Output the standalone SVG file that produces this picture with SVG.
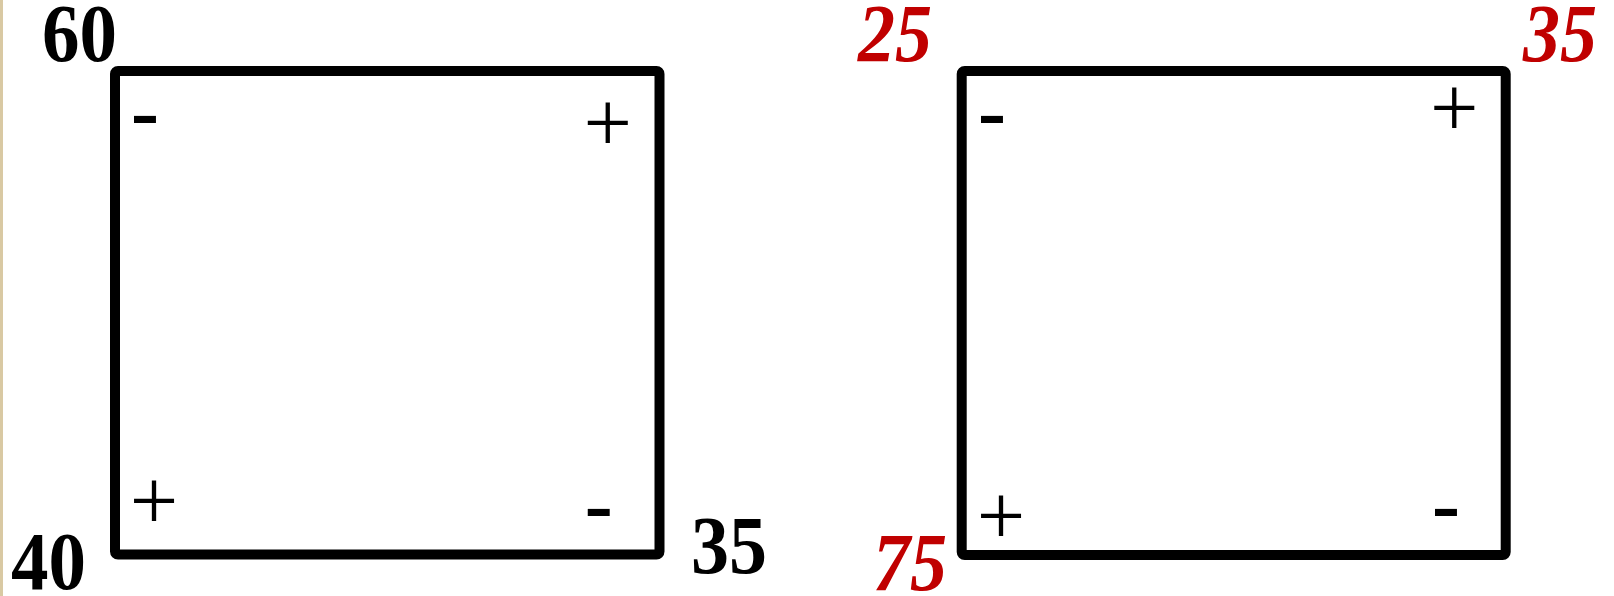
<svg xmlns="http://www.w3.org/2000/svg" width="1614" height="596" viewBox="0 0 1614 596">
<style>
.box{fill:none;stroke:#000;stroke-width:10;stroke-linejoin:round}
.num{font-family:"Liberation Serif","Times New Roman",serif;font-weight:bold;font-size:83px;fill:#000}
.red{fill:#c00000;font-style:italic}
.plus{font-family:"Liberation Serif","Times New Roman",serif;font-size:86px;fill:#000;text-anchor:middle}
.minus{font-family:"Liberation Sans",Arial,sans-serif;font-size:90px;fill:#000;text-anchor:middle}
</style>
<rect x="0" y="0" width="1614" height="596" fill="#fff"/>
<rect x="0" y="0" width="3" height="596" fill="#d9c9a3"/>
<g id="box-left">
<rect class="box" x="115" y="71" width="544.5" height="483.5" rx="3"/>
<text class="minus" x="145" y="144">-</text>
<text class="plus" x="607.7" y="152">+</text>
<text class="plus" x="154" y="530">+</text>
<text class="minus" x="598.8" y="537">-</text>
<text class="num" x="42" y="61" textLength="75" lengthAdjust="spacingAndGlyphs">60</text>
<text class="num" x="11" y="589" textLength="75" lengthAdjust="spacingAndGlyphs">40</text>
<text class="num" x="691" y="573" textLength="76" lengthAdjust="spacingAndGlyphs">35</text>
</g>
<g id="box-right">
<rect class="box" x="961.7" y="71" width="544" height="484" rx="3"/>
<text class="minus" x="992" y="144">-</text>
<text class="plus" x="1454.3" y="136.7">+</text>
<text class="plus" x="1001" y="545.3">+</text>
<text class="minus" x="1446" y="537">-</text>
<text class="num red" x="858" y="61" textLength="74" lengthAdjust="spacingAndGlyphs">25</text>
<text class="num red" x="1523" y="61" textLength="74" lengthAdjust="spacingAndGlyphs">35</text>
<text class="num red" x="873" y="590" textLength="74" lengthAdjust="spacingAndGlyphs">75</text>
</g>
<g id="connectors"></g>
</svg>
